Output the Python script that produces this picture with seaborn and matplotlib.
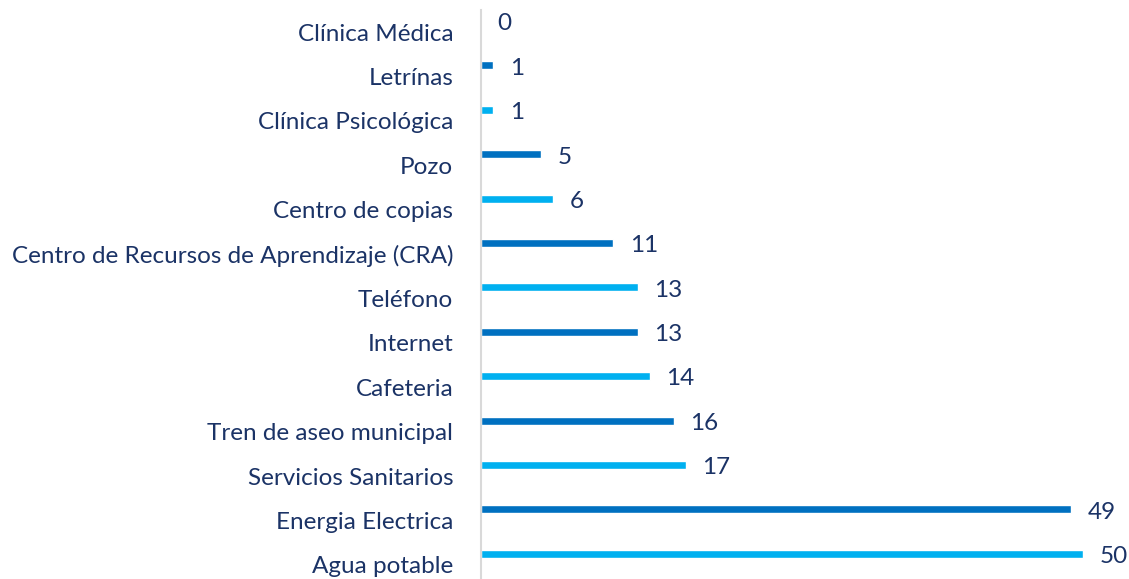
import matplotlib
matplotlib.use('Agg')
import matplotlib.pyplot as plt
import seaborn as sns
import pandas as pd

# Data (top to bottom as shown)
categories = ['Clínica Médica', 'Letrínas', 'Clínica Psicológica', 'Pozo', 'Centro de copias',
              'Centro de Recursos de Aprendizaje (CRA)', 'Teléfono', 'Internet', 'Cafeteria',
              'Tren de aseo municipal', 'Servicios Sanitarios', 'Energia Electrica', 'Agua potable']
values = [0, 1, 1, 5, 6, 11, 13, 13, 14, 16, 17, 49, 50]

light = '#00B0F0'
dark = '#0070C0'
text_color = '#1B3366'
bar_colors = [light if i % 2 == 0 else dark for i in range(len(categories))]

df = pd.DataFrame({'servicio': categories, 'cantidad': values})

sns.set_style('white')
plt.rcParams['font.family'] = ['Lato', 'DejaVu Sans']

fig = plt.figure(figsize=(11.29, 5.79), dpi=100)
ax = fig.add_axes([481 / 1129, -8 / 579, 648 / 1129, 577 / 579])

sns.barplot(data=df, y='servicio', x='cantidad', hue='servicio', palette=bar_colors,
            orient='h', width=0.18, saturation=1, legend=False, ax=ax)

ax.set_xlim(0, 648 / 12.04)
ax.set_ylim(len(categories) - 0.25, -0.25)

# category labels sit a little below their bars
ax.set_yticks([i + 0.25 for i in range(len(categories))])
ax.set_yticklabels(categories, fontsize=17.5, color=text_color)
ax.tick_params(axis='y', length=0, pad=20)
ax.set_xticks([])
ax.set_xlabel('')
ax.set_ylabel('')

for s in ['top', 'right', 'bottom']:
    ax.spines[s].set_visible(False)
ax.spines['left'].set_color('#D9D9D9')
ax.spines['left'].set_linewidth(1.5)

for i, v in enumerate(values):
    ax.annotate(str(v), xy=(v, i), xytext=(12, -2), textcoords='offset points',
                va='center', ha='left', fontsize=17.5, color=text_color, annotation_clip=False)

fig.savefig('out.png', dpi=100)
